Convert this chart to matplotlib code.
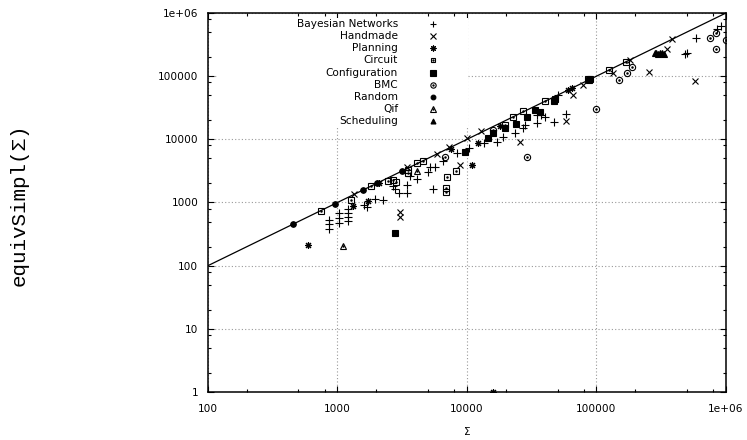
import matplotlib
matplotlib.use('Agg')
import matplotlib.pyplot as plt
from matplotlib.patches import Rectangle
from matplotlib.ticker import LogLocator, NullFormatter

# data (x = |Sigma|, y = equivSimpl(Sigma))
bayes_x = [866, 866, 866, 1028, 1028, 1028, 1199, 1199, 1199, 1199, 1604, 1698,
           1950, 2233, 2700, 2780, 2985, 3423, 3423, 3630, 4090, 5020, 5170, 5660,
           5420, 6560, 8320, 10400, 13580, 16950, 19070, 23500, 26900, 28000,
           34500, 34900, 37600, 40000, 47000, 58100, 50700, 482000, 502000,
           586000, 847000, 908000]
bayes_y = [531, 454, 387, 678, 565, 481, 783, 678, 599, 518, 916, 843,
           1141, 1099, 1832, 1622, 1402, 1402, 1898, 2635, 2334, 3010, 3620, 3620,
           1642, 4550, 6025, 7390, 8880, 9210, 11050, 12500, 15000, 16900,
           18000, 24300, 24300, 22400, 19050, 25200, 50500, 224000, 235000,
           398000, 552000, 622000]

hand_x = [1340, 3040, 3040, 3420, 5822, 8910, 7300, 10070, 12770, 25700, 58100,
          66200, 78100, 133000, 181000, 254000, 348000, 381000, 576000]
hand_y = [1368, 718, 599, 3620, 5870, 3936, 7670, 10400, 13590, 9210, 19800,
          50500, 72600, 113700, 180000, 118000, 266000, 384000, 85000]

plan_x = [589, 1308, 1722, 2102, 7480, 10860, 12240, 17980, 60700, 64300, 15900]
plan_y = [211, 884, 1071, 2018, 7050, 3936, 8880, 16300, 60500, 64400, 1]

circ_x = [747, 1264, 1803, 2468, 2667, 2829, 3520, 3520, 4140, 4550, 6950, 6840,
          6840, 8170, 19650, 22500, 27200, 40000, 85500, 89100, 125000, 169000]
circ_y = [736, 1099, 1832, 2222, 2280, 2143, 3280, 2910, 4280, 4600, 2570, 1722,
          1455, 3200, 16800, 22870, 28100, 40600, 89300, 89300, 125500, 169500]

conf_x = [2780, 9660, 14460, 15800, 19650, 23900, 28900, 33500, 36600, 47000,
          47900, 88000]
conf_y = [334, 6380, 10400, 12500, 15000, 17540, 22870, 29200, 27400, 40600,
          43600, 88000]

bmc_x = [6760, 29260, 15960, 100000, 149000, 173000, 187000, 751000, 838000,
         838000, 995000]
bmc_y = [5320, 5320, 14100, 29900, 87100, 113700, 141000, 398000, 477000,
         269000, 374000]

rand_x = [456, 957, 1582, 2008, 3170]
rand_y = [454, 940, 1581, 2018, 3200]

qif_x = [1096, 4140]
qif_y = [206, 3160]

sched_x = [283000, 290000, 298000, 308000, 320000, 335000]
sched_y = [230000, 233000, 228000, 235000, 231000, 226000]

diag = [100, 1e6]

series = [
    ('Bayesian Networks', bayes_x, bayes_y),
    ('Handmade', hand_x, hand_y),
    ('Planning', plan_x, plan_y),
    ('Circuit', circ_x, circ_y),
    ('Configuration', conf_x, conf_y),
    ('BMC', bmc_x, bmc_y),
    ('Random', rand_x, rand_y),
    ('Qif', qif_x, qif_y),
    ('Scheduling', sched_x, sched_y),
]

# marker, size, filled, centre dot
styles = [
    ('+', 5.5, False, False),
    ('x', 4.5, False, False),
    ((8, 2, 0), 5.0, False, False),
    ('s', 4.2, False, True),
    ('s', 4.5, True, False),
    ('o', 4.5, False, True),
    ('o', 4.0, True, False),
    ('^', 4.8, False, True),
    ('^', 4.2, True, False),
]

plt.rcParams['font.family'] = 'DejaVu Sans'
plt.rcParams['font.size'] = 7.6

fig = plt.figure(figsize=(7.47, 4.40), dpi=100)
ax = fig.add_axes([0.2784, 0.1091, 0.6935, 0.8614])


def draw(xs, ys, sty, **kw):
    m, ms, filled, dot = sty
    ax.plot(xs, ys, linestyle='none', marker=m, markersize=ms,
            markerfacecolor='black' if filled else 'none',
            markeredgecolor='black', markeredgewidth=0.8, **kw)
    if dot:
        ax.plot(xs, ys, linestyle='none', marker='.', markersize=1.6,
                color='black', **kw)


for (label, xs, ys), sty in zip(series, styles):
    draw(xs, ys, sty, zorder=3)

ax.plot(diag, diag, color='black', linewidth=0.9, zorder=2)

ax.set_xscale('log')
ax.set_yscale('log')
ax.set_xlim(100, 1e6)
ax.set_ylim(1, 1e6)

xt = [100, 1000, 10000, 100000, 1e6]
yt = [1, 10, 100, 1000, 10000, 100000, 1e6]
ax.set_xticks(xt)
ax.set_xticklabels(['100', '1000', '10000', '100000', '1e+06'])
ax.set_yticks(yt)
ax.set_yticklabels(['1', '10', '100', '1000', '10000', '100000', '1e+06'])
ax.xaxis.set_minor_locator(LogLocator(base=10, subs=(2, 5, 8)))
ax.yaxis.set_minor_locator(LogLocator(base=10, subs=(2, 5, 8)))
ax.xaxis.set_minor_formatter(NullFormatter())
ax.yaxis.set_minor_formatter(NullFormatter())
ax.tick_params(which='both', direction='in', top=True, right=True, width=0.8)
ax.tick_params(which='major', length=4, pad=7, labelsize=7.6)
ax.tick_params(axis='x', which='major', pad=9)
ax.tick_params(which='minor', length=2.2)
for s in ax.spines.values():
    s.set_linewidth(1.1)

ax.set_axisbelow(True)
ax.grid(True, which='major', color='#999999', linestyle=(0, (1, 2)),
        linewidth=0.8)

# gnuplot key area blanks the grid behind it
ax.add_patch(Rectangle((0.019, 0.697), 0.483, 0.29, transform=ax.transAxes,
                       facecolor='white', edgecolor='none', zorder=1))

# key: right aligned labels, samples to the right
y0 = 0.971
dy = 0.0321
for i, ((label, xs, ys), sty) in enumerate(zip(series, styles)):
    yy = y0 - i * dy
    ax.text(0.367, yy, label, transform=ax.transAxes, ha='right', va='center',
            fontsize=7.6, zorder=4)
    m, ms, filled, dot = sty
    ax.plot([0.434], [yy], transform=ax.transAxes, linestyle='none', marker=m,
            markersize=ms * 0.85, markerfacecolor='black' if filled else 'none',
            markeredgecolor='black', markeredgewidth=0.8, zorder=4,
            clip_on=False)
    if dot:
        ax.plot([0.434], [yy], transform=ax.transAxes, linestyle='none',
                marker='.', markersize=1.4, color='black', zorder=4)

ax.set_xlabel('Σ', fontsize=7.6, labelpad=9)
fig.text(0.026, 0.535, 'equivSimpl(Σ)', rotation=90, ha='center', va='center',
         fontsize=15, family=['Liberation Mono', 'DejaVu Sans Mono'])

fig.savefig('out.png', dpi=100)
